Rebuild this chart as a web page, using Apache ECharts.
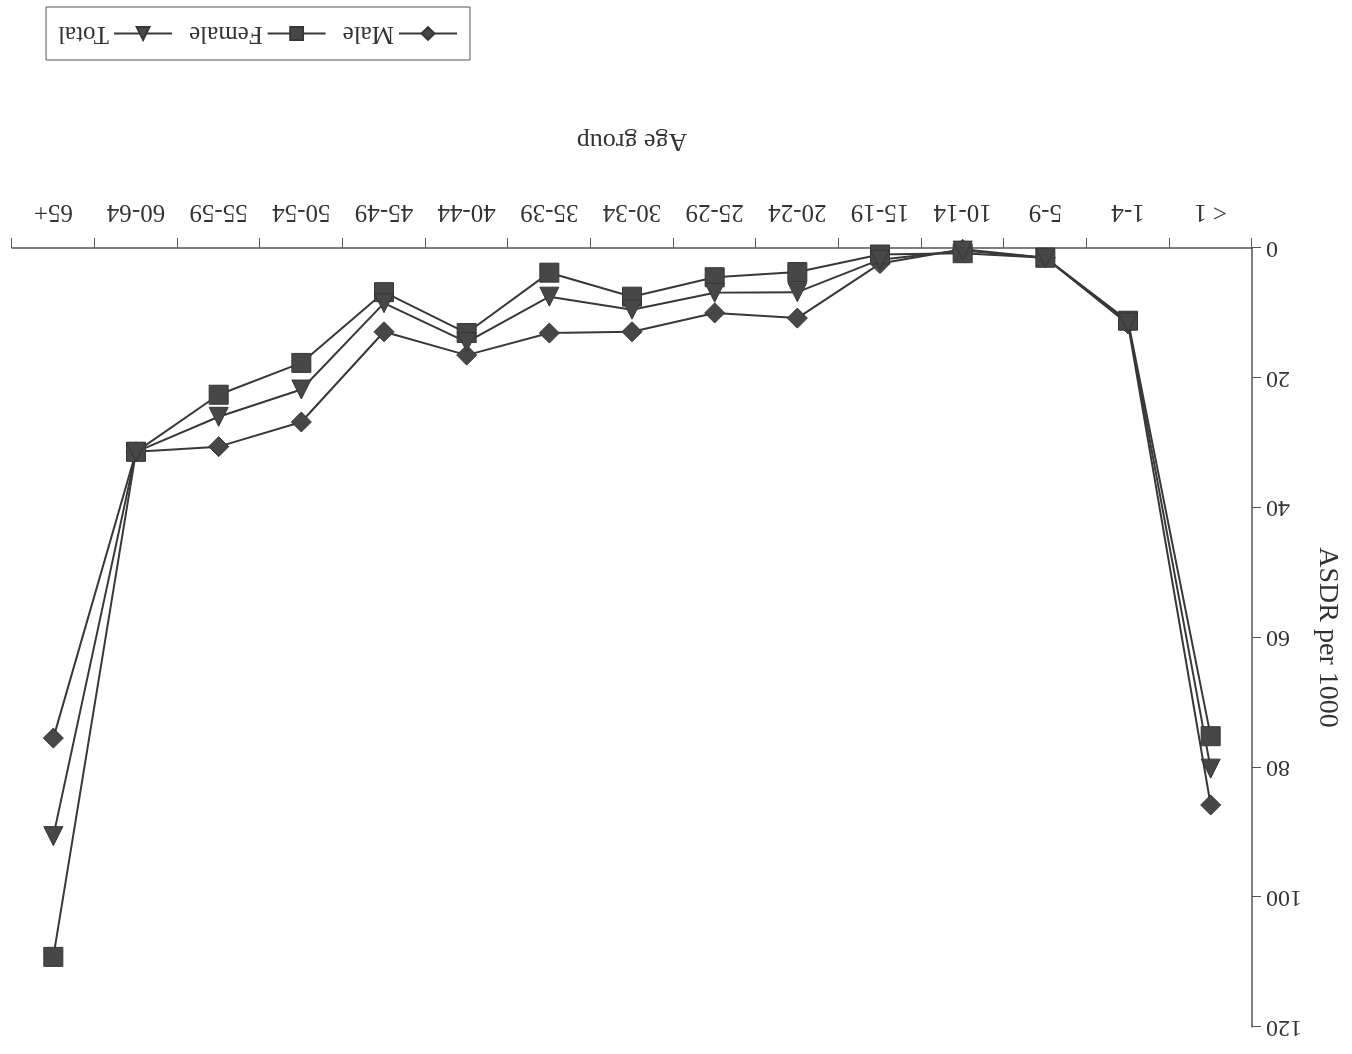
<!DOCTYPE html>
<html>
<head>
<meta charset="utf-8">
<title>ASDR per 1000 by age group</title>
<script src="https://cdn.jsdelivr.net/npm/echarts@6/dist/echarts.min.js"></script>
<style>
html, body { margin: 0; padding: 0; background: #fff; }
/* the scanned page is upside down, so the whole chart is turned round */
#asdrChart { width: 1352px; height: 1054px; transform: rotate(180deg); }
</style>
</head>
<body>
<div id="asdrChart"></div>
<script>
// age groups (x axis)
var ageGroups = ['< 1', '1-4', '5-9', '10-14', '15-19', '20-24', '25-29', '30-34', '35-39', '40-44', '45-49', '50-54', '55-59', '60-64', '65+'];
// ASDR per 1000
var maleData   = [85.8, 11.7, 1.5, 0.2, 2.4, 10.8, 10.0, 12.9, 13.1, 16.5, 12.9, 26.8, 30.6, 31.4, 75.5];
var femaleData = [75.2, 11.2, 1.5, 0.8, 1.0, 3.7, 4.5, 7.5, 3.8, 13.1, 6.8, 17.7, 22.6, 31.4, 109.2];
var totalData  = [80.2, 11.5, 1.5, 0.4, 1.8, 6.8, 6.9, 9.5, 7.5, 14.5, 8.5, 21.8, 26.0, 31.4, 90.6];
var yTicks = [0, 20, 40, 60, 80, 100, 120];

var serifFont = "'Liberation Serif', 'DejaVu Serif', serif";
var inkColor = '#383838';

/**
 * 生成一条折线的配置
 */
function buildLine(name, data, symbol, size){
	return {
		name: name,
		type: 'line',
		data: data,
		symbol: symbol,
		symbolSize: size,
		lineStyle: { color: inkColor, width: 2 },
		itemStyle: { color: '#474747', borderColor: '#363636', borderWidth: 1 },
		emphasis: { disabled: true },
		animation: false,
		z: 3
	};
}

function loadAsdrChart(){
	var chart = echarts.init(document.getElementById('asdrChart'));
	var option = {
		backgroundColor: '#ffffff',
		textStyle: { fontFamily: serifFont, color: '#333' },
		grid: { left: 100, right: 12, top: 27, bottom: 248 },
		legend: {
			left: 882,
			top: 994,
			orient: 'horizontal',
			padding: [14, 12, 14, 12],
			itemGap: 16,
			itemWidth: 58,
			itemHeight: 16,
			borderColor: '#555',
			borderWidth: 1,
			textStyle: { fontFamily: serifFont, fontSize: 25, color: '#333' },
			data: ['Male', 'Female', 'Total']
		},
		xAxis: {
			type: 'category',
			data: ageGroups,
			boundaryGap: true,
			name: 'Age group',
			nameLocation: 'middle',
			nameGap: 94,
			nameTextStyle: { fontFamily: serifFont, fontSize: 26, color: '#333' },
			axisLine: { lineStyle: { color: '#555', width: 1.5 } },
			axisTick: { show: true, length: 10, alignWithLabel: false, lineStyle: { color: '#555' } },
			axisLabel: { fontFamily: serifFont, fontSize: 25, color: '#333', margin: 24, interval: 0 },
			splitLine: { show: false }
		},
		yAxis: {
			type: 'value',
			min: yTicks[0],
			max: yTicks[yTicks.length - 1],
			interval: 20,
			name: 'ASDR per 1000',
			nameLocation: 'middle',
			nameRotate: 90,
			nameGap: 59,
			nameTextStyle: { fontFamily: serifFont, fontSize: 28, color: '#333' },
			axisLine: { show: true, lineStyle: { color: '#555', width: 1.5 } },
			axisTick: { show: true, length: 9, lineStyle: { color: '#555' } },
			axisLabel: { fontFamily: serifFont, fontSize: 24, color: '#333', margin: 14 },
			splitLine: { show: false }
		},
		series: [
			buildLine('Male', maleData, 'diamond', 20),
			buildLine('Female', femaleData, 'rect', 19),
			buildLine('Total', totalData, 'triangle', 19)
		]
	};
	chart.setOption(option);
}

loadAsdrChart();
</script>
</body>
</html>
